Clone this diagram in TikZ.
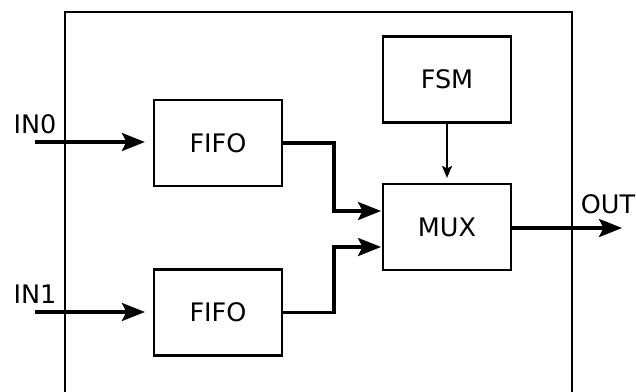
\documentclass[tikz,border=0pt]{standalone}
\usepackage{fontspec}
\setmainfont{DejaVu Sans}
\usetikzlibrary{arrows.meta}

\tikzset{
  blockbox/.style={draw, line width=2.2pt, minimum width=128pt, minimum height=86pt,
    inner sep=0pt, font=\fontsize{25.5}{28}\selectfont},
  portlabel/.style={inner sep=0pt, font=\fontsize{25.5}{28}\selectfont},
  bus/.style={line width=3.3pt, -{Stealth[length=23pt,width=18pt,inset=4.5pt]}},
  ctl/.style={line width=1.6pt, -{Stealth[length=12pt,width=10pt,inset=2.5pt]}},
  frame/.style={line width=1.7pt}
}

\begin{document}
\begin{tikzpicture}[x=1pt, y=-1pt]
  \useasboundingbox (0,0) rectangle (636,391);
  \clip (0,0) rectangle (636,391);

  % enclosing module, open at the bottom
  \draw[frame] (65,395) -- (65,12) -- (572,12) -- (572,395);

  % blocks
  \node[blockbox] (fifo0) at (218,143) {FIFO};
  \node[blockbox] (fifo1) at (218,312.5) {FIFO};
  \node[blockbox] (fsm) at (447,79.5) {FSM};
  \node[blockbox] (mux) at (447,227) {MUX};

  % port labels
  \node[portlabel] (lin0) at (35,124) {IN0};
  \node[portlabel] (lin1) at (35,294) {IN1};
  \node[portlabel] (lout) at (608,204) {OUT};

  % connector end points
  \coordinate (in0) at (35,142);
  \coordinate (in1) at (35,312);
  \coordinate (m0) at (383,211);
  \coordinate (m1) at (383,247);
  \coordinate (out) at (622,228);

  % data paths
  \draw[bus, shorten >=8pt] (in0) -- (fifo0.west |- in0);
  \draw[bus, shorten >=8pt] (in1) -- (fifo1.west |- in1);
  \draw[bus, shorten >=2pt] (fifo0.east) -- (334,143) |- (m0);
  \draw[bus, shorten >=2pt] (fifo1.east) -- (334,312.5) |- (m1);
  \draw[bus] (mux.east |- out) -- (out);

  % control
  \draw[ctl, shorten >=5pt] (fsm.south) -- (mux.north);
\end{tikzpicture}
\end{document}
